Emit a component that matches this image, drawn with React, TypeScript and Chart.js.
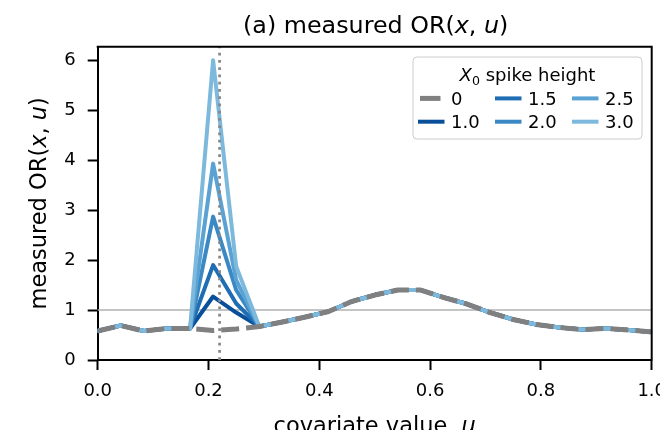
import React, { useEffect, useRef } from 'react';
import { Chart, registerables } from 'chart.js';

Chart.register(...registerables);

// covariate grid (u)
const U = [0.0, 0.0417, 0.0833, 0.125, 0.1667, 0.2083, 0.25, 0.2917, 0.3333, 0.375, 0.4167, 0.4583, 0.5,
  0.5417, 0.5833, 0.625, 0.6667, 0.7083, 0.75, 0.7917, 0.8333, 0.875, 0.9167, 0.9583, 1.0];

// measured OR for each X0 spike height
const OR_0 = [0.58, 0.69, 0.58, 0.63, 0.63, 0.59, 0.62, 0.67, 0.76, 0.86, 0.97, 1.17, 1.30,
  1.40, 1.40, 1.25, 1.12, 0.95, 0.81, 0.71, 0.65, 0.61, 0.63, 0.60, 0.56];
const OR_1_0 = [0.58, 0.69, 0.58, 0.63, 0.63, 1.27, 0.95, 0.67, 0.76, 0.86, 0.97, 1.17, 1.30,
  1.40, 1.40, 1.25, 1.12, 0.95, 0.81, 0.71, 0.65, 0.61, 0.63, 0.60, 0.56];
const OR_1_5 = [0.58, 0.69, 0.58, 0.63, 0.63, 1.90, 1.13, 0.67, 0.76, 0.86, 0.97, 1.17, 1.30,
  1.40, 1.40, 1.25, 1.12, 0.95, 0.81, 0.71, 0.65, 0.61, 0.63, 0.60, 0.56];
const OR_2_0 = [0.58, 0.69, 0.58, 0.63, 0.63, 2.87, 1.40, 0.67, 0.76, 0.86, 0.97, 1.17, 1.30,
  1.40, 1.40, 1.25, 1.12, 0.95, 0.81, 0.71, 0.65, 0.61, 0.63, 0.60, 0.56];
const OR_2_5 = [0.58, 0.69, 0.58, 0.63, 0.63, 3.93, 1.60, 0.67, 0.76, 0.86, 0.97, 1.17, 1.30,
  1.40, 1.40, 1.25, 1.12, 0.95, 0.81, 0.71, 0.65, 0.61, 0.63, 0.60, 0.56];
const OR_3_0 = [0.58, 0.69, 0.58, 0.63, 0.63, 6.00, 1.87, 0.67, 0.76, 0.86, 0.97, 1.17, 1.30,
  1.40, 1.40, 1.25, 1.12, 0.95, 0.81, 0.71, 0.65, 0.61, 0.63, 0.60, 0.56];

const SERIES_LABELS = ['0', '1.0', '1.5', '2.0', '2.5', '3.0'];
const SERIES_VALUES = [OR_0, OR_1_0, OR_1_5, OR_2_0, OR_2_5, OR_3_0];
const SERIES_COLORS = ['#808080', '#0a4f9a', '#1f6db2', '#3a89c4', '#5aa2d3', '#7db9dc'];
// drawing order: lower = on top (baseline on top, then lightest blue)
const SERIES_ORDER = [0, 5, 4, 3, 2, 1];

const X_TICKS = [0, 0.2, 0.4, 0.6, 0.8, 1.0];
const X_TICK_LABELS = ['0.0', '0.2', '0.4', '0.6', '0.8', '1.0'];
const Y_TICKS = [0, 1, 2, 3, 4, 5, 6];
const Y_TICK_LABELS = ['0', '1', '2', '3', '4', '5', '6'];
const Y_MAX = 6.27;

const REF_OR = 1;        // horizontal reference line
const SPIKE_U = 0.22;    // vertical dotted line

const FAMILY = '"DejaVu Sans", sans-serif';

type Part = { t: string; i?: boolean; s?: number; dy?: number };

function fontOf(p: Part, size: number) {
  return `${p.i ? 'italic ' : ''}${(size * (p.s || 1)).toFixed(2)}px ${FAMILY}`;
}

function drawParts(ctx: CanvasRenderingContext2D, parts: Part[], x: number, y: number, size: number, align: 'center' | 'left') {
  ctx.textBaseline = 'alphabetic';
  ctx.textAlign = 'left';
  const widths = parts.map((p) => {
    ctx.font = fontOf(p, size);
    return ctx.measureText(p.t).width;
  });
  const total = widths.reduce((a, b) => a + b, 0);
  let cx = align === 'center' ? x - total / 2 : x;
  parts.forEach((p, k) => {
    ctx.font = fontOf(p, size);
    ctx.fillText(p.t, cx, y + (p.dy || 0));
    cx += widths[k];
  });
}

const decorPlugin = {
  id: 'decor',
  beforeDatasetsDraw(chart: any) {
    const { ctx, chartArea: a, scales } = chart;
    const y1 = scales.y.getPixelForValue(REF_OR);
    ctx.save();
    ctx.strokeStyle = '#b0b0b0';
    ctx.lineWidth = 1.5;
    ctx.beginPath();
    ctx.moveTo(a.left, y1);
    ctx.lineTo(a.right, y1);
    ctx.stroke();
    ctx.restore();
  },
  afterDatasetsDraw(chart: any) {
    const { ctx, chartArea: a, scales } = chart;
    const xs = scales.x.getPixelForValue(SPIKE_U);
    ctx.save();
    ctx.strokeStyle = '#888888';
    ctx.lineWidth = 2.75;
    ctx.setLineDash([2.75, 4.5]);
    ctx.beginPath();
    ctx.moveTo(xs, a.bottom);
    ctx.lineTo(xs, a.top);
    ctx.stroke();
    ctx.restore();
  },
  afterDraw(chart: any) {
    const { ctx, chartArea: a } = chart;
    ctx.save();
    // top and right spines
    ctx.strokeStyle = '#000';
    ctx.lineWidth = 2;
    ctx.beginPath();
    ctx.moveTo(a.left - 1, a.top);
    ctx.lineTo(a.right, a.top);
    ctx.lineTo(a.right, a.bottom + 1);
    ctx.stroke();

    ctx.fillStyle = '#000';
    const cxp = (a.left + a.right) / 2;
    const cyp = (a.top + a.bottom) / 2;
    // title
    drawParts(ctx, [{ t: '(a) measured OR(' }, { t: 'x', i: true }, { t: ', ' }, { t: 'u', i: true }, { t: ')' }], cxp + 1, 33, 23.8, 'center');
    // x label
    drawParts(ctx, [{ t: 'covariate value, ' }, { t: 'u', i: true }], cxp, 432.5, 22.5, 'center');
    // y label
    ctx.save();
    ctx.translate(45.5, cyp);
    ctx.rotate(-Math.PI / 2);
    drawParts(ctx, [{ t: 'measured OR(' }, { t: 'x', i: true }, { t: ', ' }, { t: 'u', i: true }, { t: ')' }], 0, 0, 22.5, 'center');
    ctx.restore();

    // legend
    const bx = 413, by = 57, bw = 229, bh = 82, r = 4;
    ctx.beginPath();
    ctx.moveTo(bx + r, by);
    ctx.lineTo(bx + bw - r, by);
    ctx.arcTo(bx + bw, by, bx + bw, by + r, r);
    ctx.lineTo(bx + bw, by + bh - r);
    ctx.arcTo(bx + bw, by + bh, bx + bw - r, by + bh, r);
    ctx.lineTo(bx + r, by + bh);
    ctx.arcTo(bx, by + bh, bx, by + bh - r, r);
    ctx.lineTo(bx, by + r);
    ctx.arcTo(bx, by, bx + r, by, r);
    ctx.closePath();
    ctx.fillStyle = 'rgba(255,255,255,0.8)';
    ctx.fill();
    ctx.strokeStyle = '#cccccc';
    ctx.lineWidth = 1;
    ctx.stroke();

    ctx.fillStyle = '#000';
    drawParts(ctx, [{ t: 'X', i: true }, { t: '0', s: 0.7, dy: 3.5 }, { t: ' spike height' }], bx + bw / 2, 81, 18, 'center');

    const colX = [420, 497, 574];
    const rowY = [105, 128.3];
    SERIES_LABELS.forEach((lab, k) => {
      const col = Math.floor(k / 2);
      const row = k % 2;
      const hx = colX[col];
      const hy = rowY[row] - 6.6;
      ctx.save();
      ctx.strokeStyle = SERIES_COLORS[k];
      if (k === 0) {
        ctx.lineWidth = 5;
        ctx.lineCap = 'butt';
        ctx.beginPath();
        ctx.moveTo(hx, hy);
        ctx.lineTo(hx + 20.5, hy);
        ctx.stroke();
      } else {
        ctx.lineWidth = 4;
        ctx.lineCap = 'square';
        ctx.beginPath();
        ctx.moveTo(hx, hy);
        ctx.lineTo(hx + 22.5, hy);
        ctx.stroke();
      }
      ctx.restore();
      ctx.fillStyle = '#000';
      drawParts(ctx, [{ t: lab }], hx + 31, rowY[row], 18, 'left');
    });
    ctx.restore();
  },
};

export default function App() {
  const ref = useRef<HTMLCanvasElement | null>(null);
  useEffect(() => {
    const canvas = ref.current;
    if (!canvas) return;
    const datasets = SERIES_LABELS.map((lab, k) => ({
      label: lab,
      data: U.map((u, j) => ({ x: u, y: SERIES_VALUES[k][j] })),
      order: SERIES_ORDER[k],
      borderColor: SERIES_COLORS[k],
      backgroundColor: SERIES_COLORS[k],
      borderWidth: k === 0 ? 5 : 4,
      borderDash: k === 0 ? [18, 7] : [],
      borderCapStyle: k === 0 ? 'butt' : 'round',
      borderJoinStyle: 'round',
      pointRadius: 0,
      tension: 0,
      fill: false,
    }));
    const tickFont = { family: FAMILY, size: 18 };
    const chart = new Chart(canvas, {
      type: 'line',
      data: { datasets } as any,
      options: {
        responsive: false,
        animation: false,
        devicePixelRatio: 1,
        layout: { padding: { top: 46.7, right: 28.3, left: 0, bottom: 0 } },
        plugins: {
          legend: { display: false },
          title: { display: false },
          tooltip: { enabled: false },
        },
        scales: {
          x: {
            type: 'linear',
            min: 0,
            max: 1,
            afterFit: (s: any) => { s.height = 90; },
            afterBuildTicks: (s: any) => { s.ticks = X_TICKS.map((v) => ({ value: v })); },
            ticks: {
              callback: (_v: any, i: number) => X_TICK_LABELS[i],
              font: tickFont,
              color: '#000',
              padding: 11,
              maxRotation: 0,
              autoSkip: false,
            },
            grid: { drawOnChartArea: false, drawTicks: true, tickLength: 10, tickWidth: 2, tickColor: '#000' },
            border: { display: true, color: '#000', width: 2 },
          },
          y: {
            type: 'linear',
            min: 0,
            max: Y_MAX,
            afterFit: (s: any) => { s.width = 97.7; },
            afterBuildTicks: (s: any) => { s.ticks = Y_TICKS.map((v) => ({ value: v })); },
            ticks: {
              callback: (_v: any, i: number) => Y_TICK_LABELS[i],
              font: tickFont,
              color: '#000',
              padding: 12,
              autoSkip: false,
            },
            grid: { drawOnChartArea: false, drawTicks: true, tickLength: 10, tickWidth: 2, tickColor: '#000' },
            border: { display: true, color: '#000', width: 2 },
          },
        },
      } as any,
      plugins: [decorPlugin],
    });
    return () => chart.destroy();
  }, []);
  return (
    <div style={{ position: 'fixed', left: 0, top: 0, width: 660, height: 430, overflow: 'hidden', background: '#fff' }}>
      <canvas ref={ref} width={680} height={450} style={{ display: 'block', width: 680, height: 450 }} />
    </div>
  );
}
